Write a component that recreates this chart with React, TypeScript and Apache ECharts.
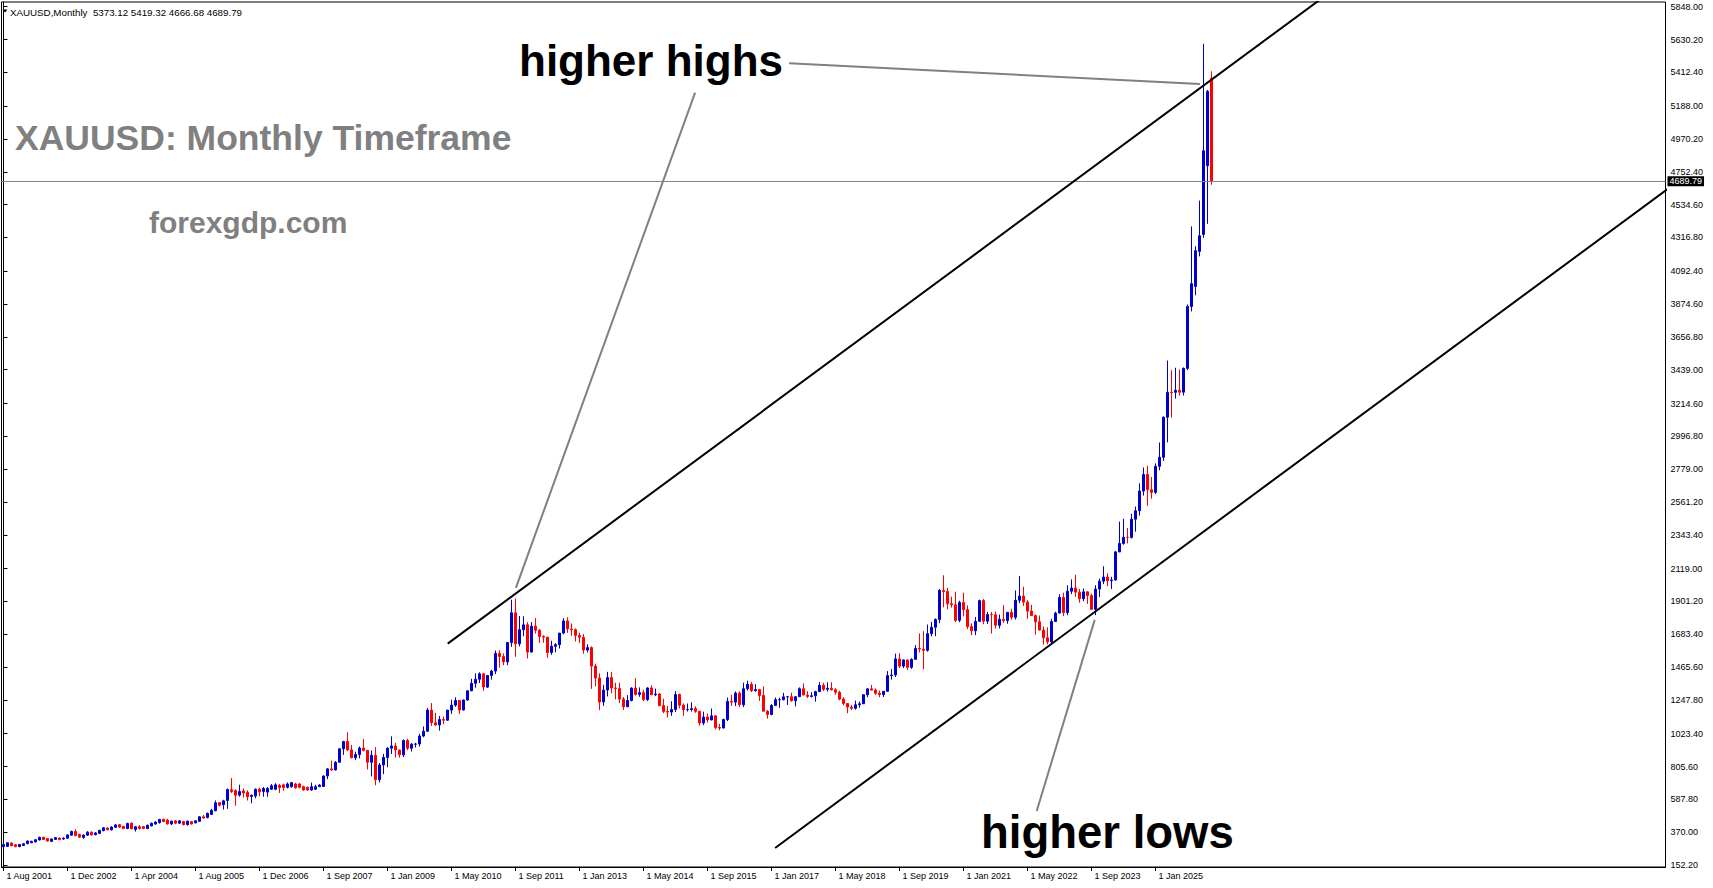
import React, { useEffect, useRef } from "react";
import * as echarts from "echarts";

const headerText = "XAUUSD,Monthly  5373.12 5419.32 4666.68 4689.79";
const currentPrice = 4689.79;

const xTickLabels = [
  "1 Aug 2001", "1 Dec 2002", "1 Apr 2004", "1 Aug 2005", "1 Dec 2006",
  "1 Sep 2007", "1 Jan 2009", "1 May 2010", "1 Sep 2011", "1 Jan 2013",
  "1 May 2014", "1 Sep 2015", "1 Jan 2017", "1 May 2018", "1 Sep 2019",
  "1 Jan 2021", "1 May 2022", "1 Sep 2023", "1 Jan 2025",
];

const yTickValues = [
  152.2, 370.0, 587.8, 805.6, 1023.4, 1247.8, 1465.6, 1683.4, 1901.2, 2119.0,
  2343.4, 2561.2, 2779.0, 2996.8, 3214.6, 3439.0, 3656.8, 3874.6, 4092.4,
  4316.8, 4534.6, 4752.4, 4970.2, 5188.0, 5412.4, 5630.2, 5848.0,
];

// [open, high, low, close] per monthly bar
const candles: number[][] = [
  [274, 292, 270, 289], [276, 303, 272, 300], [298, 302, 277, 280], [287, 290, 270, 274],
  [274, 291, 271, 289], [282, 296, 279, 293], [294, 315, 290, 311], [300, 313, 297, 309],
  [305, 323, 302, 320], [318, 340, 315, 336], [336, 340, 318, 321], [328, 332, 308, 311],
  [309, 328, 304, 325], [322, 338, 319, 334], [331, 335, 317, 320], [325, 336, 319, 330],
  [330, 355, 327, 352], [350, 380, 347, 375], [375, 390, 343, 347], [355, 360, 333, 337],
  [335, 355, 326, 351], [350, 377, 345, 370], [370, 375, 348, 352], [353, 371, 349, 365],
  [362, 386, 357, 382], [380, 404, 376, 399], [398, 402, 382, 386], [386, 410, 381, 404],
  [402, 424, 399, 418], [420, 425, 398, 404], [408, 412, 390, 394], [394, 432, 390, 428],
  [430, 434, 388, 393], [388, 410, 374, 406], [406, 417, 388, 394], [406, 412, 390, 395],
  [394, 420, 390, 416], [412, 434, 408, 429], [424, 442, 420, 437], [433, 458, 427, 455],
  [455, 460, 437, 440], [450, 458, 420, 425], [425, 447, 417, 443], [445, 450, 423, 430],
  [430, 450, 425, 445], [441, 445, 415, 420], [420, 447, 414, 443], [440, 444, 420, 425],
  [432, 449, 428, 445], [442, 476, 438, 472], [472, 485, 460, 464], [467, 500, 462, 495],
  [488, 525, 484, 515], [513, 580, 508, 565], [566, 570, 540, 549], [552, 585, 520, 578],
  [580, 660, 525, 653], [652, 730, 630, 640], [646, 655, 545, 615], [616, 685, 605, 640],
  [644, 660, 600, 630], [634, 648, 580, 605], [607, 620, 562, 615], [610, 660, 595, 655],
  [655, 665, 608, 638], [640, 670, 605, 660], [636, 670, 605, 660], [655, 690, 650, 678],
  [655, 695, 648, 684], [680, 690, 630, 666], [684, 692, 645, 666], [668, 700, 660, 690],
  [672, 699, 665, 699], [690, 698, 660, 664], [690, 697, 660, 668], [672, 678, 645, 650],
  [668, 672, 645, 650], [650, 699, 645, 672], [655, 685, 650, 672], [672, 688, 670, 683],
  // Sep 2007 onwards
  [673, 746, 670, 743], [743, 795, 722, 790], [790, 845, 777, 783], [783, 842, 780, 834],
  [834, 928, 834, 923], [923, 976, 883, 972], [972, 1033, 908, 916], [916, 949, 860, 864],
  [864, 904, 848, 885], [885, 939, 860, 928], [928, 988, 906, 913], [913, 915, 786, 834],
  [834, 912, 740, 880], [880, 935, 681, 718], [718, 829, 700, 816], [816, 889, 755, 866],
  [866, 935, 801, 927], [927, 1006, 889, 942], [942, 963, 865, 916], [916, 916, 865, 883],
  [883, 985, 868, 979], [979, 990, 914, 927], [927, 961, 905, 954], [954, 963, 932, 955],
  [955, 1023, 938, 1008], [1008, 1071, 1000, 1040], [1040, 1195, 1034, 1180], [1180, 1227, 1075, 1096],
  [1096, 1162, 1074, 1081], [1081, 1141, 1044, 1118], [1118, 1137, 1087, 1113], [1113, 1181, 1110, 1180],
  [1180, 1249, 1155, 1213], [1213, 1265, 1202, 1244], [1244, 1245, 1155, 1181], [1181, 1250, 1177, 1247],
  [1247, 1309, 1242, 1308], [1308, 1388, 1306, 1358], [1358, 1424, 1329, 1385], [1385, 1431, 1360, 1421],
  [1421, 1424, 1308, 1333], [1333, 1412, 1327, 1410], [1410, 1447, 1382, 1439], [1439, 1576, 1419, 1556],
  [1556, 1577, 1462, 1536], [1536, 1556, 1478, 1500], [1500, 1633, 1478, 1628], [1628, 1913, 1600, 1826],
  [1826, 1921, 1534, 1620], [1620, 1804, 1603, 1714], [1714, 1803, 1670, 1746], [1746, 1764, 1523, 1565],
  [1565, 1764, 1563, 1737], [1737, 1791, 1688, 1710], [1710, 1719, 1627, 1669], [1669, 1677, 1627, 1664],
  [1664, 1667, 1527, 1562], [1562, 1640, 1547, 1604], [1604, 1625, 1564, 1614], [1614, 1692, 1589, 1691],
  [1691, 1790, 1684, 1772], [1772, 1796, 1693, 1719], [1719, 1755, 1672, 1714], [1714, 1722, 1635, 1676],
  [1676, 1694, 1626, 1663], [1663, 1684, 1555, 1579], [1579, 1617, 1562, 1595], [1595, 1603, 1321, 1472],
  [1472, 1488, 1338, 1393], [1393, 1424, 1180, 1234], [1234, 1348, 1208, 1313], [1313, 1434, 1271, 1396],
  [1396, 1434, 1291, 1327], [1327, 1361, 1251, 1323], [1323, 1362, 1226, 1253], [1253, 1267, 1181, 1202],
  [1202, 1280, 1202, 1244], [1244, 1332, 1238, 1326], [1326, 1392, 1277, 1284], [1284, 1331, 1268, 1296],
  [1296, 1315, 1240, 1250], [1250, 1332, 1240, 1327], [1327, 1345, 1280, 1282], [1282, 1323, 1273, 1287],
  [1287, 1293, 1206, 1210], [1210, 1255, 1160, 1171], [1171, 1208, 1131, 1167], [1167, 1239, 1142, 1184],
  [1184, 1307, 1167, 1284], [1284, 1288, 1191, 1213], [1213, 1224, 1142, 1183], [1183, 1224, 1170, 1184],
  [1184, 1232, 1170, 1190], [1190, 1205, 1162, 1172], [1172, 1175, 1077, 1095], [1095, 1170, 1080, 1134],
  [1134, 1157, 1098, 1115], [1115, 1191, 1112, 1142], [1142, 1146, 1052, 1064], [1064, 1088, 1046, 1061],
  [1061, 1123, 1060, 1118], [1118, 1263, 1107, 1238], [1238, 1282, 1208, 1233], [1233, 1304, 1207, 1293],
  [1293, 1303, 1199, 1215], [1215, 1362, 1200, 1322], [1322, 1375, 1310, 1351], [1351, 1367, 1300, 1309],
  [1309, 1352, 1302, 1316], [1316, 1318, 1241, 1277], [1277, 1338, 1171, 1173], [1173, 1180, 1123, 1151],
  [1151, 1220, 1146, 1211], [1211, 1264, 1208, 1249], [1249, 1262, 1195, 1249], [1249, 1295, 1245, 1268],
  [1268, 1273, 1214, 1269], [1269, 1296, 1236, 1242], [1242, 1274, 1205, 1269], [1269, 1331, 1267, 1322],
  [1322, 1357, 1280, 1280], [1280, 1306, 1261, 1271], [1271, 1299, 1264, 1275], [1275, 1308, 1236, 1303],
  [1303, 1366, 1302, 1345], [1345, 1361, 1307, 1318], [1318, 1365, 1303, 1325], [1325, 1365, 1310, 1315],
  [1315, 1326, 1282, 1299], [1299, 1309, 1245, 1253], [1253, 1266, 1211, 1224], [1224, 1225, 1160, 1201],
  [1201, 1214, 1180, 1192], [1192, 1243, 1183, 1215], [1215, 1237, 1196, 1222], [1222, 1284, 1221, 1282],
  [1282, 1326, 1266, 1321], [1321, 1347, 1310, 1313], [1313, 1324, 1281, 1292], [1292, 1310, 1266, 1283],
  [1283, 1306, 1267, 1305], [1305, 1439, 1301, 1409], [1409, 1453, 1382, 1413], [1413, 1555, 1400, 1520],
  [1520, 1557, 1459, 1472], [1472, 1517, 1459, 1513], [1513, 1516, 1445, 1464], [1464, 1524, 1454, 1517],
  [1517, 1611, 1517, 1589], [1589, 1689, 1563, 1585], [1585, 1704, 1451, 1577], [1577, 1748, 1568, 1687],
  [1687, 1765, 1670, 1730], [1730, 1789, 1671, 1781], [1781, 1984, 1757, 1975], [1975, 2075, 1863, 1967],
  [1967, 1992, 1849, 1886], [1886, 1933, 1860, 1879], [1879, 1966, 1765, 1776], [1776, 1906, 1764, 1895],
  [1895, 1959, 1802, 1847], [1847, 1875, 1717, 1734], [1734, 1756, 1677, 1707], [1707, 1798, 1678, 1769],
  [1769, 1913, 1766, 1907], [1907, 1917, 1750, 1770], [1770, 1832, 1751, 1814], [1814, 1832, 1688, 1813],
  [1813, 1834, 1721, 1743], [1743, 1814, 1722, 1783], [1783, 1877, 1759, 1774], [1774, 1831, 1753, 1829],
  [1829, 1853, 1780, 1796], [1796, 1974, 1781, 1909], [1909, 2070, 1890, 1937], [1937, 1998, 1872, 1897],
  [1897, 1909, 1787, 1837], [1837, 1879, 1806, 1807], [1807, 1814, 1681, 1766], [1766, 1808, 1709, 1711],
  [1711, 1735, 1615, 1660], [1660, 1730, 1617, 1633], [1633, 1786, 1616, 1768], [1768, 1833, 1765, 1824],
  [1824, 1949, 1823, 1928], [1928, 1959, 1804, 1827], [1827, 2009, 1810, 1969], [1969, 2048, 1950, 1990],
  [1990, 2079, 1932, 1963], [1963, 1984, 1893, 1919], [1919, 1987, 1903, 1965], [1965, 1970, 1885, 1940],
  [1940, 1953, 1847, 1849], [1849, 2009, 1810, 1983], [1983, 2052, 1931, 2036], [2036, 2135, 2016, 2063],
  [2063, 2088, 2002, 2039], [2039, 2065, 1984, 2044], [2044, 2236, 2039, 2230], [2230, 2431, 2228, 2286],
  [2286, 2450, 2277, 2327], [2327, 2388, 2286, 2326], [2326, 2483, 2319, 2447], [2447, 2531, 2364, 2503],
  [2503, 2685, 2471, 2634], [2634, 2790, 2604, 2744], [2744, 2801, 2536, 2643], [2643, 2726, 2583, 2625],
  [2625, 2817, 2614, 2798], [2798, 2956, 2772, 2858], [2858, 3128, 2833, 3124], [3124, 3500, 2957, 3289],
  [3289, 3435, 3121, 3287], [3289, 3452, 3247, 3303], [3303, 3439, 3268, 3290], [3290, 3454, 3268, 3448],
  [3448, 3872, 3436, 3858], [3859, 4390, 3826, 4010], [3992, 4258, 3933, 4229], [4224, 4561, 4191, 4328],
  [4337, 5602, 4314, 4892], [4793, 5296, 4407, 5286], [5373.12, 5419.32, 4666.68, 4689.79],
];

// trend lines as [bar index, price] anchor pairs
const upperChannel = [[111.05, 1621], [330, 5912]];
const lowerChannel = [[192.9, 265], [420, 4716]];
const highsPointerA = [[172.9, 5278], [128.1, 1991]];
const highsPointerB = [[196.4, 5473], [299.1, 5335]];
const lowsPointer = [[258.3, 511], [272.8, 1779]];

const SLOTS = 416;
const FONT = "'Liberation Sans', Arial, sans-serif";

export default function App() {
  const ref = useRef<HTMLDivElement>(null);

  useEffect(() => {
    if (!ref.current) return;
    const chart = echarts.init(ref.current, null, { renderer: "svg" });
    const tickSet = new Set(xTickLabels);
    const categories = Array.from({ length: SLOTS }, (_, i) =>
      i % 16 === 0 && i / 16 < xTickLabels.length ? xTickLabels[i / 16] : `#${i}`
    );
    const isTick = (_: number, v: string) => tickSet.has(v);

    const lineSeries = (data: number[][], color: string, width: number) => ({
      type: "line",
      xAxisIndex: 1,
      yAxisIndex: 0,
      data,
      symbol: "none",
      silent: true,
      clip: true,
      lineStyle: { color, width },
      z: 5,
    });

    chart.setOption({
      animation: false,
      backgroundColor: "#ffffff",
      grid: {
        left: 1.5,
        top: 2,
        width: SLOTS * 4,
        height: 865,
        show: true,
        borderColor: "#000",
        borderWidth: 1,
        containLabel: false,
      },
      xAxis: [
        {
          type: "category",
          data: categories,
          boundaryGap: true,
          axisLine: { show: true, lineStyle: { color: "#000", width: 1 } },
          axisTick: { show: true, interval: isTick, alignWithLabel: true, length: 4, lineStyle: { color: "#000" } },
          axisLabel: {
            show: true,
            interval: isTick,
            formatter: (v: string) => (tickSet.has(v) ? v : ""),
            align: "left",
            padding: [0, 0, 0, 3],
            margin: 4,
            fontSize: 9,
            fontFamily: FONT,
            color: "#000",
          },
          splitLine: { show: false },
        },
        {
          type: "value",
          min: -0.5,
          max: SLOTS - 0.5,
          show: false,
          splitLine: { show: false },
        },
      ],
      yAxis: {
        type: "value",
        position: "right",
        min: 138.9,
        max: 5879.2,
        scale: true,
        axisLine: { show: true, lineStyle: { color: "#000", width: 1 } },
        axisTick: { show: true, customValues: yTickValues, length: 4, lineStyle: { color: "#000" } },
        axisLabel: {
          show: true,
          customValues: yTickValues,
          formatter: (v: number) => v.toFixed(2),
          showMinLabel: true,
          showMaxLabel: true,
          hideOverlap: false,
          margin: 5,
          fontSize: 9,
          fontFamily: FONT,
          color: "#000",
        },
        splitLine: { show: false },
      },
      series: [
        {
          type: "candlestick",
          data: candles.map(([o, h, l, c]) => [o, c, l, h]),
          barWidth: 2,
          itemStyle: {
            color: "#0000CC",
            color0: "#FF0000",
            borderColor: "#0000CC",
            borderColor0: "#FF0000",
            borderWidth: 1,
          },
          markLine: {
            silent: true,
            symbol: "none",
            lineStyle: { color: "#778899", type: "solid", width: 1 },
            label: {
              show: true,
              position: "end",
              distance: 2,
              formatter: currentPrice.toFixed(2),
              backgroundColor: "#000",
              color: "#fff",
              fontSize: 9,
              fontFamily: FONT,
              padding: [1, 2, 0, 2],
            },
            data: [{ yAxis: currentPrice }],
          },
          z: 3,
        },
        lineSeries(upperChannel, "#000", 2),
        lineSeries(lowerChannel, "#000", 2),
        lineSeries(highsPointerA, "#808080", 2),
        lineSeries(highsPointerB, "#808080", 2),
        lineSeries(lowsPointer, "#808080", 2),
      ],
      graphic: [
        {
          type: "polygon",
          shape: { points: [[2.5, 9.5], [7.5, 9.5], [5, 12.5]] },
          style: { fill: "#000" },
          silent: true,
        },
        {
          type: "text",
          x: 10,
          y: 12,
          style: { text: headerText, font: `9.75px ${FONT}`, fill: "#000", verticalAlign: "middle", align: "left" },
          silent: true,
        },
        {
          type: "text",
          x: 519,
          y: 60,
          style: { text: "higher highs", font: `bold 44px ${FONT}`, fill: "#000", verticalAlign: "middle", align: "left" },
          silent: true,
          z: 10,
        },
        {
          type: "text",
          x: 15,
          y: 138,
          style: { text: "XAUUSD: Monthly Timeframe", font: `bold 35.5px ${FONT}`, fill: "#808080", verticalAlign: "middle", align: "left" },
          silent: true,
        },
        {
          type: "text",
          x: 149,
          y: 222,
          style: { text: "forexgdp.com", font: `bold 30px ${FONT}`, fill: "#808080", verticalAlign: "middle", align: "left" },
          silent: true,
        },
        {
          type: "text",
          x: 981,
          y: 832,
          style: { text: "higher lows", font: `bold 45.5px ${FONT}`, fill: "#000", verticalAlign: "middle", align: "left" },
          silent: true,
          z: 10,
        },
      ],
    });

    return () => chart.dispose();
  }, []);

  return (
    <div
      ref={ref}
      style={{ position: "fixed", left: 0, top: 0, width: 1713, height: 888, background: "#fff" }}
    />
  );
}
